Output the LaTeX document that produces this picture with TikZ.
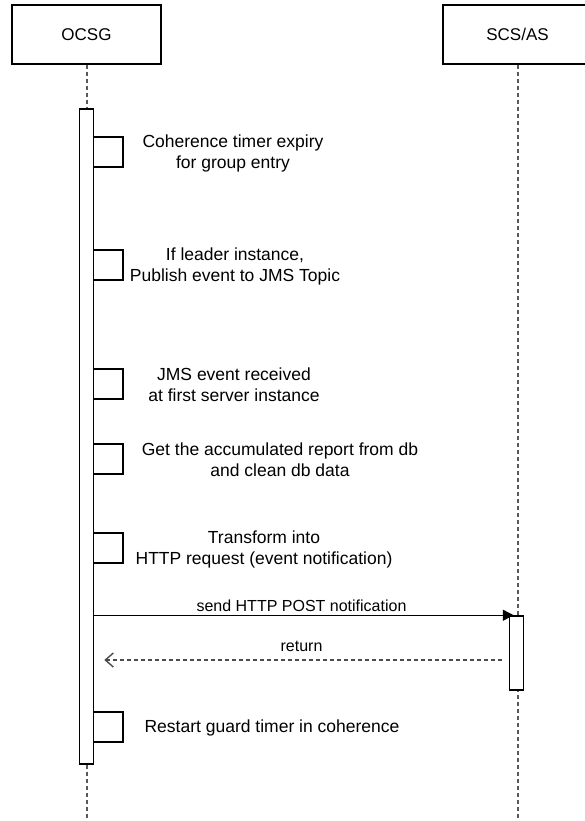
\documentclass[tikz,border=0pt]{standalone}
\usepackage{fontspec}
\setmainfont{Liberation Sans}
\usetikzlibrary{arrows.meta,positioning}
\tikzset{
  actor/.style={draw, line width=1.5pt, minimum width=149pt, minimum height=59pt, inner sep=0pt,
    font=\fontsize{17}{20}\selectfont},
  lifeline/.style={draw=black!65, dash pattern=on 4pt off 3pt, line width=2pt},
  bar/.style={draw, fill=white, line width=1.5pt, minimum width=14pt, inner sep=0pt},
  selfloop/.style={line width=2.2pt},
  note/.style={align=center, inner sep=0pt, font=\fontsize{17.5}{21}\selectfont},
  msg/.style={line width=1.4pt},
  msglabel/.style={inner sep=0pt, font=\fontsize{16}{19}\selectfont},
}
\begin{document}
\begin{tikzpicture}[x=1pt,y=-1pt]
  \useasboundingbox (0,0) rectangle (584,821);
  % actors and lifelines
  \node[actor] (ocsg) at (86.5,34.5) {OCSG};
  \node[actor] (scs) at (517.5,34.5) {SCS/AS};
  \coordinate (ocsgend) at (86.5,821);
  \coordinate (scsend) at (517.5,821);
  \draw[lifeline] (ocsg.south) -- (ocsgend);
  \draw[lifeline] (scs.south) -- (scsend);
  % activations
  \node[bar, minimum height=655pt] (ocsgbar) at (86.5,436.5) {};
  \node[bar, minimum height=74pt] (scsbar) at (516.5,653) {};
  % self steps
  \foreach \y/\tx/\t [count=\i] in {
      137/233/{Coherence timer expiry\\for group entry},
      250/235/{If leader instance,\\Publish event to JMS Topic},
      369/234/{JMS event received\\at first server instance},
      444/280/{Get the accumulated report from db\\and clean db data},
      533/264/{Transform into\\HTTP request (event notification)},
      712/272/{Restart guard timer in coherence}}{
    \draw[selfloop] (ocsgbar.east |- 0,\y) -- ++(29,0) -- ++(0,30) -- ++(-29,0);
    \node[note] (note\i) at (\tx,\y+16) {\t};
  }
  % messages
  \draw[msg, -{Triangle[length=11pt,width=11pt]}, shorten >=-5pt]
    (ocsgbar.east |- scsbar.north) -- (scsbar.north west)
    node[msglabel, midway, above=3pt] {send HTTP POST notification};
  \draw[msg, black!70, dash pattern=on 4pt off 3pt, -{Straight Barb[length=8pt,width=14pt]},
    shorten <=7pt, shorten >=10pt]
    (scsbar.west |- 0,660) -- (ocsgbar.east |- 0,660)
    node[msglabel, black, midway, above=8pt] {return};
\end{tikzpicture}
\end{document}
